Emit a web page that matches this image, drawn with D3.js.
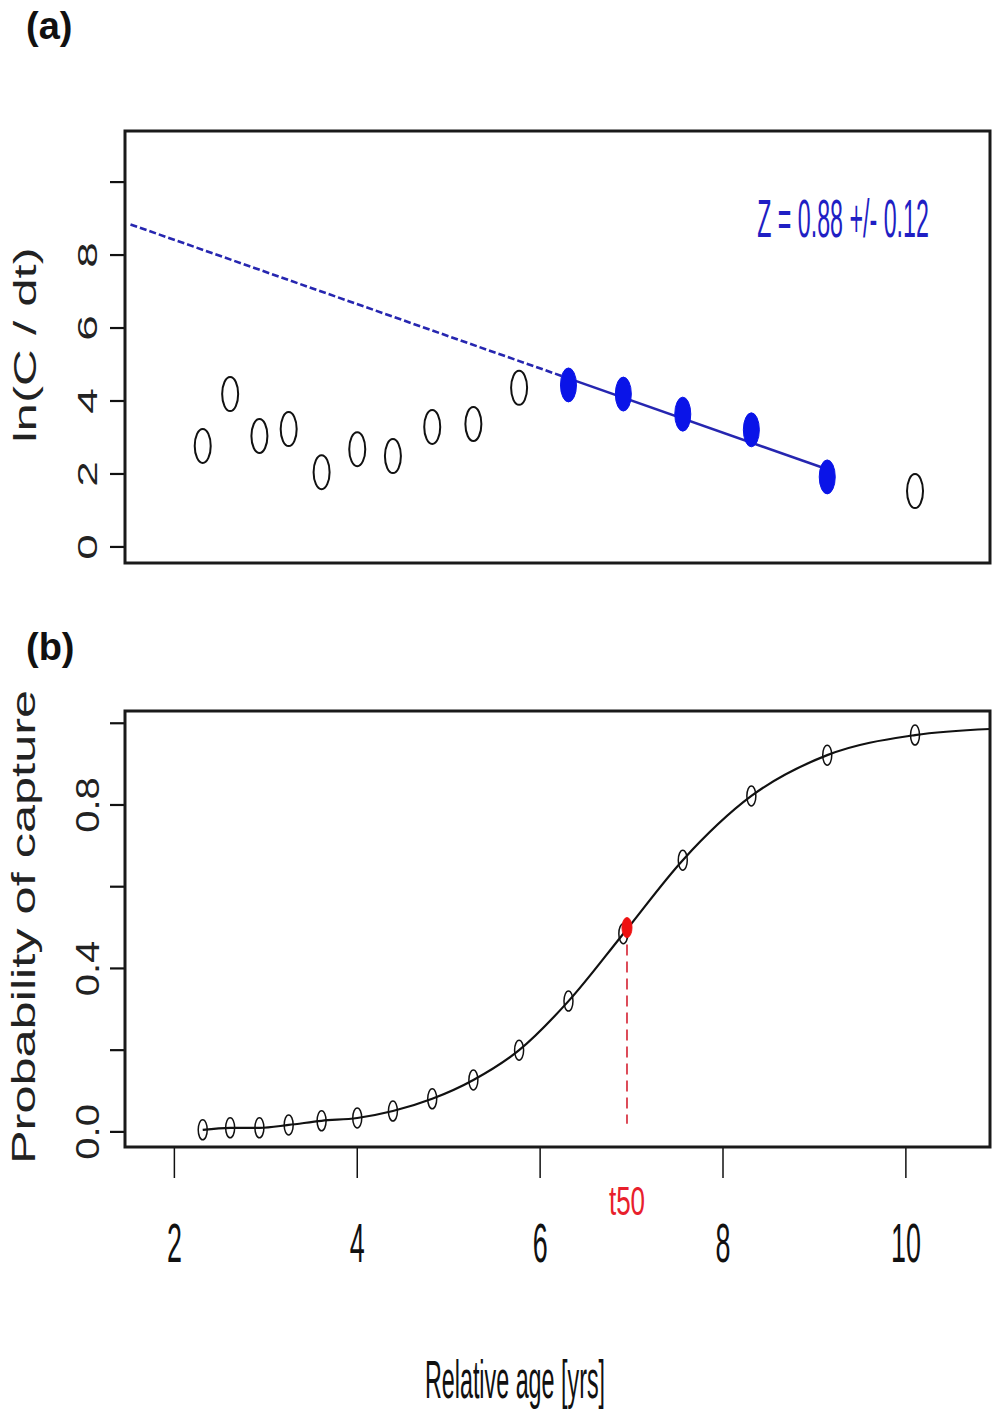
<!DOCTYPE html>
<html><head><meta charset="utf-8">
<script src="https://cdn.jsdelivr.net/npm/d3@7"></script>
<style>body{margin:0;background:#fff}svg{display:block}text{font-family:"Liberation Sans",Arial,sans-serif}</style>
</head><body>
<svg id="chart" width="993" height="1410"></svg>
<script>
// ---- data ----
const ages      = [2.31, 2.61, 2.93, 3.25, 3.61, 4.00, 4.39, 4.82, 5.27, 5.77, 6.31, 6.91, 7.56, 8.31, 9.14, 10.10];
const lnCdt     = [2.77, 4.19, 3.04, 3.23, 2.05, 2.68, 2.49, 3.29, 3.37, 4.36, 4.44, 4.19, 3.64, 3.21, 1.92, 1.53];
const usedInFit = [0,0,0,0,0,0,0,0,0,0,1,1,1,1,1,0];
const fitAges   = [1.52, 6.31, 9.14];
const fitValues = [8.84, 4.62, 2.13];
const probCapture = [0.005, 0.010, 0.010, 0.017, 0.027, 0.034, 0.051, 0.081, 0.127, 0.200, 0.320, 0.485, 0.665, 0.822, 0.922, 0.971];
const curveEndAge = 10.92, curveEndProb = 0.986;
const t50 = 6.95, p50 = 0.5;
const xTicks = [2, 4, 6, 8, 10];
const yTicksA = [0, 2, 4, 6, 8, 10];
const yLabelsA = ["0", "2", "4", "6", "8", ""];
const yTicksB = [0, 0.2, 0.4, 0.6, 0.8, 1.0];
const yLabelsB = ["0.0", "", "0.4", "", "0.8", ""];
const zLabel = "Z = 0.88 +/- 0.12";

const svg = d3.select("#chart");
const X0 = 125, X1 = 990;
const x = d3.scaleLinear().domain([1.46, 10.92]).range([X0, X1]);
const yA = d3.scaleLinear().domain([-0.44, 11.40]).range([563, 131]);
const yB = d3.scaleLinear().domain([-0.037, 1.03]).range([1147, 711]);

function hText(g, str, tx, ty, size, sx, opts = {}) {
  return g.append("text").attr("transform", `translate(${tx},${ty}) scale(${sx},1)`)
    .attr("text-anchor", opts.anchor || "middle").attr("font-size", size)
    .attr("font-weight", opts.weight || "normal").attr("fill", opts.fill || "#111").text(str);
}
function vText(g, str, tx, ty, size, sx, opts = {}) {
  return g.append("text").attr("transform", `translate(${tx},${ty}) scale(${sx},1) rotate(-90)`)
    .attr("text-anchor", "middle").attr("font-size", size).attr("fill", opts.fill || "#222").text(str);
}

// ---------- panel (a) ----------
const ga = svg.append("g");
hText(ga, "(a)", 26, 39, 38, 1, {anchor: "start", weight: "bold"});
ga.selectAll("line.ta").data(yTicksA).join("line")
  .attr("x1", X0 - 15).attr("x2", X0).attr("y1", d => yA(d)).attr("y2", d => yA(d))
  .attr("stroke", "#111").attr("stroke-width", 2.2);
yTicksA.forEach((d, i) => { if (yLabelsA[i]) vText(ga, yLabelsA[i], 97, yA(d), 46, 0.62); });
vText(ga, "ln(C / dt)", 36, 345, 51, 0.63);

// regression line: dashed extrapolation + solid fit
const lineA = d3.line().x(d => x(d[0])).y(d => yA(d[1]));
const fitPts = fitAges.map((a, i) => [a, fitValues[i]]);
ga.append("path").attr("d", lineA(fitPts.slice(0, 2))).attr("fill", "none")
  .attr("stroke", "#2626b0").attr("stroke-width", 2.6).attr("stroke-dasharray", "7,3");
ga.append("path").attr("d", lineA(fitPts.slice(1, 3))).attr("fill", "none")
  .attr("stroke", "#2626b0").attr("stroke-width", 2.6);

const ptsA = ages.map((a, i) => ({a, v: lnCdt[i], f: usedInFit[i]}));
ga.selectAll("ellipse.pa").data(ptsA).join("ellipse")
  .attr("cx", d => x(d.a)).attr("cy", d => yA(d.v)).attr("rx", 8).attr("ry", 17)
  .attr("fill", d => d.f ? "#0a14e8" : "none")
  .attr("stroke", d => d.f ? "#0a14e8" : "#111").attr("stroke-width", d => d.f ? 1 : 2);

hText(ga, zLabel, 843, 237, 54, 0.43, {fill: "#1f1fc4"});

ga.append("rect").attr("x", X0).attr("y", 131).attr("width", X1 - X0).attr("height", 563 - 131)
  .attr("fill", "none").attr("stroke", "#1a1a1a").attr("stroke-width", 3);

// ---------- panel (b) ----------
const gb = svg.append("g");
hText(gb, "(b)", 26, 660, 38, 1, {anchor: "start", weight: "bold"});
gb.selectAll("line.tb").data(yTicksB).join("line")
  .attr("x1", X0 - 15).attr("x2", X0).attr("y1", d => yB(d)).attr("y2", d => yB(d))
  .attr("stroke", "#111").attr("stroke-width", 2.2);
yTicksB.forEach((d, i) => { if (yLabelsB[i]) vText(gb, yLabelsB[i], 99, yB(d), 40, 0.85); });
vText(gb, "Probability of capture", 35, 927, 50.5, 0.64);

gb.selectAll("line.tx").data(xTicks).join("line")
  .attr("x1", d => x(d)).attr("x2", d => x(d)).attr("y1", 1147).attr("y2", 1178)
  .attr("stroke", "#111").attr("stroke-width", 1.5);
xTicks.forEach(d => hText(gb, String(d), x(d), 1262, 56, 0.48));
hText(gb, "Relative age [yrs]", 515, 1398, 53, 0.44);

// red dashed t50 marker
gb.append("line").attr("x1", x(t50)).attr("x2", x(t50)).attr("y1", yB(p50)).attr("y2", yB(0.02))
  .attr("stroke", "#d42030").attr("stroke-width", 1.6).attr("stroke-dasharray", "11,6");
hText(gb, "t50", x(t50), 1215, 40, 0.65, {fill: "#e8202c"});

// selectivity curve
const curvePts = ages.map((a, i) => [a, probCapture[i]]).concat([[curveEndAge, curveEndProb]]);
gb.append("path").attr("d", d3.line().x(d => x(d[0])).y(d => yB(d[1])).curve(d3.curveMonotoneX)(curvePts))
  .attr("fill", "none").attr("stroke", "#111").attr("stroke-width", 2.2);
gb.selectAll("ellipse.pb").data(ages.map((a, i) => [a, probCapture[i]])).join("ellipse")
  .attr("cx", d => x(d[0])).attr("cy", d => yB(d[1])).attr("rx", 4.5).attr("ry", 10)
  .attr("fill", "none").attr("stroke", "#111").attr("stroke-width", 1.5);
gb.append("ellipse").attr("cx", x(t50)).attr("cy", yB(p50)).attr("rx", 5).attr("ry", 10)
  .attr("fill", "#ee1111").attr("stroke", "#ee1111");

gb.append("rect").attr("x", X0).attr("y", 711).attr("width", X1 - X0).attr("height", 1147 - 711)
  .attr("fill", "none").attr("stroke", "#1a1a1a").attr("stroke-width", 3);
</script>
</body></html>
